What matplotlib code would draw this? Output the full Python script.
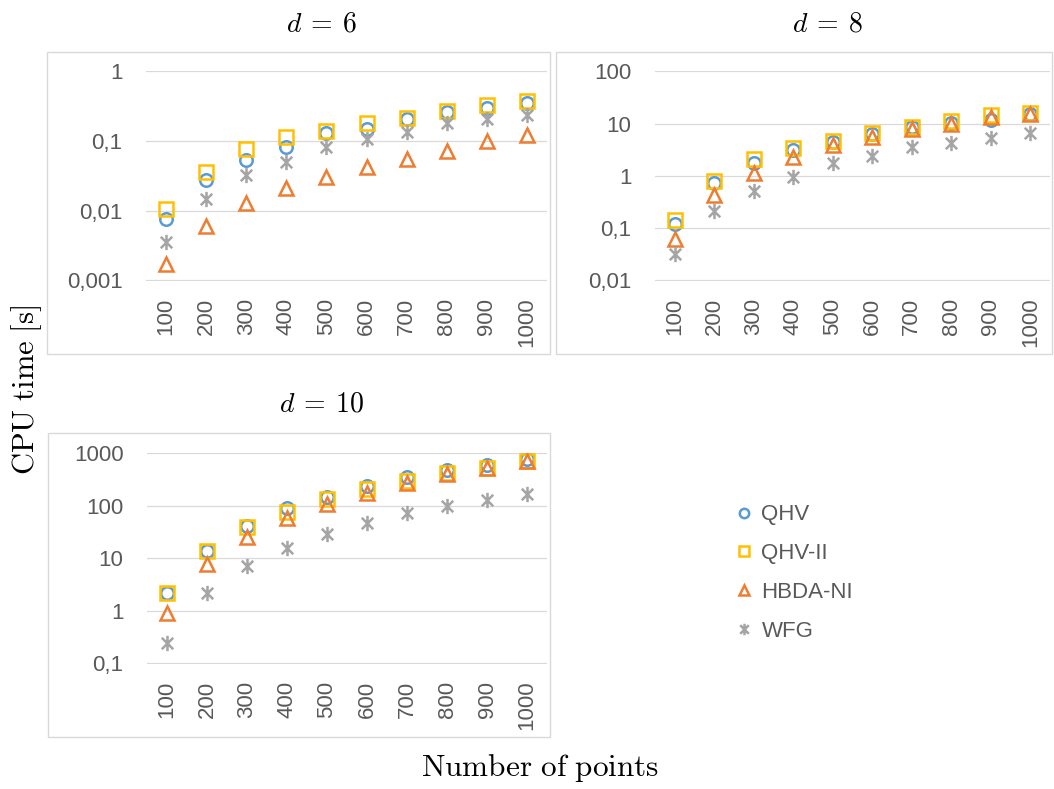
import numpy as np
import matplotlib
matplotlib.use("Agg")
import matplotlib.pyplot as plt
from matplotlib.path import Path
from matplotlib.patches import Rectangle

plt.rcParams['mathtext.fontset'] = 'cm'
plt.rcParams['font.family'] = ['Liberation Sans', 'DejaVu Sans']

# categories
points = ['100', '200', '300', '400', '500', '600', '700', '800', '900', '1000']
methods = ['QHV', 'QHV-II', 'HBDA-NI', 'WFG']

# d = 6
qhv_6 = [0.0076, 0.0275, 0.053, 0.081, 0.132, 0.147, 0.205, 0.264, 0.295, 0.355]
qhv2_6 = [0.0107, 0.036, 0.076, 0.116, 0.14, 0.18, 0.216, 0.27, 0.33, 0.38]
hbda_6 = [0.0017, 0.006, 0.0128, 0.0208, 0.030, 0.043, 0.056, 0.073, 0.101, 0.12]
wfg_6 = [0.0035, 0.0145, 0.032, 0.050, 0.081, 0.106, 0.136, 0.18, 0.21, 0.24]

# d = 8
qhv_8 = [0.12, 0.74, 1.74, 3.1, 4.5, 6.3, 8.5, 10.4, 11.8, 15]
qhv2_8 = [0.145, 0.80, 2.1, 3.4, 4.6, 6.6, 8.5, 11, 14.7, 15.9]
hbda_8 = [0.063, 0.43, 1.12, 2.3, 3.9, 5.6, 7.8, 9.8, 13.2, 15]
wfg_8 = [0.032, 0.21, 0.52, 0.96, 1.74, 2.4, 3.5, 4.2, 5.3, 6.5]

# d = 10
qhv_10 = [2.2, 14, 42, 91, 150, 240, 350, 480, 600, 780]
qhv2_10 = [2.2, 14, 40, 75, 134, 207, 300, 415, 520, 700]
hbda_10 = [0.9, 7.9, 26, 59, 107, 178, 270, 405, 520, 725]
wfg_10 = [0.245, 2.2, 7.1, 16, 29, 47, 73, 100, 130, 168]

colors = ['#5B9BD5', '#FFC000', '#ED7D31', '#A5A5A5']

# excel style asterisk
a = 0.75
star = Path([(0, -1), (0, 1), (-a, -a), (a, a), (-a, a), (a, -a)],
            [Path.MOVETO, Path.LINETO, Path.MOVETO, Path.LINETO, Path.MOVETO, Path.LINETO])
markers = ['o', 's', '^', star]
msizes = [9, 10, 10, 11]

W, H = 1054, 789
fig = plt.figure(figsize=(W / 100, H / 100), dpi=100)


def fx(px):
    return px / W


def fy(py):
    return 1 - py / H


panels = [
    # frame (x0, y0, x1, y1), plot area (x0, y0, x1, y1), data, ylim, ticklabels, title
    ((47, 52, 550, 354), (146, 71, 547, 281), [qhv_6, qhv2_6, hbda_6, wfg_6],
     (0.001, 1), ['0,001', '0,01', '0,1', '1'], r'$d\:=\:6$', 25),
    ((556, 52, 1052, 354), (655, 71, 1050, 281), [qhv_8, qhv2_8, hbda_8, wfg_8],
     (0.01, 100), ['0,01', '0,1', '1', '10', '100'], r'$d\:=\:8$', 25),
    ((48, 433, 550, 737), (147, 453, 547, 664), [qhv_10, qhv2_10, hbda_10, wfg_10],
     (0.1, 1000), ['0,1', '1', '10', '100', '1000'], r'$d\:=\:10$', 405),
]

x = np.arange(len(points))
handles = []
for frame, area, data, ylim, ylabels, title, ty in panels:
    fig.patches.append(Rectangle((fx(frame[0]), fy(frame[3])), fx(frame[2] - frame[0]),
                                 (frame[3] - frame[1]) / H, transform=fig.transFigure,
                                 fill=False, edgecolor='#D9D9D9', linewidth=1))
    ax = fig.add_axes([fx(area[0]), fy(area[3]), fx(area[2] - area[0]), (area[3] - area[1]) / H])
    handles = []
    for vals, c, m, ms, name in zip(data, colors, markers, msizes, methods):
        h, = ax.plot(x, vals, linestyle='none', marker=m, markersize=ms,
                     markerfacecolor='none', markeredgecolor=c, markeredgewidth=1.8,
                     label=name)
        handles.append(h)
    ax.set_yscale('log')
    ax.set_ylim(ylim[0] * 10 ** -0.01, ylim[1] * 10 ** 0.005)
    ticks = [float(t.replace(',', '.')) for t in ylabels]
    ax.set_yticks(ticks)
    ax.set_yticklabels(ylabels)
    ax.minorticks_off()
    ax.set_xlim(-0.5, len(points) - 0.5)
    ax.set_xticks(x)
    ax.set_xticklabels(points, rotation=90)
    ax.grid(axis='y', color='#D9D9D9', linewidth=0.9)
    ax.set_axisbelow(True)
    for s in ax.spines.values():
        s.set_visible(False)
    ax.tick_params(length=0, labelsize=16, labelcolor='#595959')
    ax.tick_params(axis='y', pad=17)
    ax.tick_params(axis='x', pad=12)
    fig.text(fx((area[0] + area[2]) / 2 - 25), fy(ty), title, fontsize=20,
             ha='center', va='center')

fig.legend(handles=handles, loc='center', bbox_to_anchor=(fx(795), fy(573)),
           frameon=False, fontsize=16, labelcolor='#595959', handlelength=0.6,
           handletextpad=0.5, labelspacing=0.8, markerscale=0.75)

fig.text(fx(27), fy(390), r'$\mathrm{CPU\ time\ [s]}$', rotation=90, fontsize=22,
         ha='center', va='center')
fig.text(fx(540), fy(768), r'$\mathrm{Number\ of\ points}$', fontsize=22.5,
         ha='center', va='center')

fig.savefig('out.png', dpi=100)
